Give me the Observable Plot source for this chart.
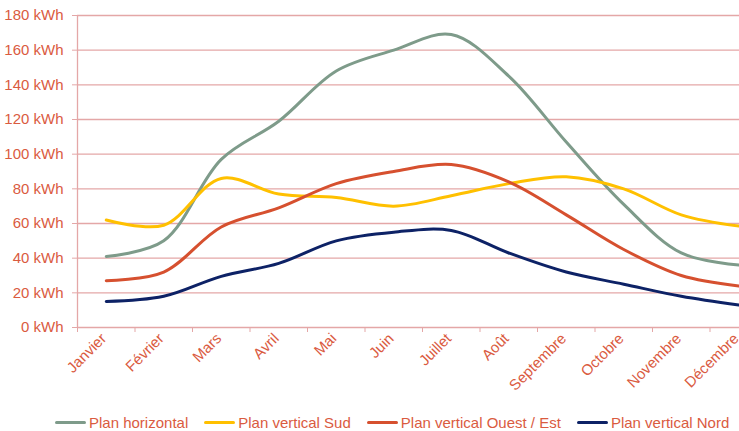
<!DOCTYPE html>
<html><head><meta charset="utf-8">
<script src="https://cdn.jsdelivr.net/npm/d3@7"></script>
<script src="https://cdn.jsdelivr.net/npm/@observablehq/plot@0.6"></script>
<style>
body{margin:0;background:#fff;font-family:"Liberation Sans",Arial,sans-serif;}
#wrap{position:relative;width:739px;height:431px;overflow:hidden;background:#fff;}
#legend{position:absolute;left:55px;top:415px;display:flex;gap:16px;font-size:15px;color:#DA5B3F;line-height:15px;height:15px;}
.item{display:flex;align-items:center;white-space:nowrap;}
.sw{display:inline-block;width:31px;height:3px;margin-right:3px;border-radius:1.5px;}
</style></head><body><div id="wrap"><div id="chart"></div><div id="legend"></div></div>
<script>
const months = ["Janvier","Février","Mars","Avril","Mai","Juin","Juillet","Août","Septembre","Octobre","Novembre","Décembre"];
const seriesNames = ["Plan horizontal","Plan vertical Sud","Plan vertical Ouest / Est","Plan vertical Nord"];
const seriesColors = ["#7E9B8A","#FFC000","#D6502F","#0D2266"];
const planHorizontal = [41, 50, 97, 119, 148, 160, 169, 145, 107, 71, 43, 36];
const planSud = [62, 59, 86, 77, 75, 70, 76, 83, 87, 80, 65, 58.5];
const planOuestEst = [27, 32, 58, 69, 83, 90, 94, 84, 65, 45, 30, 24];
const planNord = [15, 18, 29.5, 37, 50, 55, 56, 43, 32, 25, 18, 13];
const yTicks = [0,20,40,60,80,100,120,140,160,180];

const textColor = "#DA5B3F";
const gridColor = "#E4A7A7";

const allValues = [planHorizontal, planSud, planOuestEst, planNord];
const data = seriesNames.flatMap((name, s) => allValues[s].map((v, i) => ({name, month: months[i], pos: i + 0.5, value: v})));
const boundaries = d3.range(0, months.length + 1);

const chart = Plot.plot({
  width: 739, height: 405,
  marginTop: 15, marginBottom: 78, marginLeft: 77, marginRight: 0,
  style: {fontFamily: "'Liberation Sans', Arial, sans-serif", fontSize: "15px", color: textColor, background: "transparent", overflow: "hidden"},
  x: {type: "linear", domain: [0, months.length], range: [77, 767]},
  y: {domain: [0, 180]},
  color: {domain: seriesNames, range: seriesColors},
  marks: [
    Plot.gridY(yTicks, {stroke: gridColor, strokeOpacity: 1, strokeWidth: 1.3}),
    Plot.ruleX([0], {y1: 0, y2: 180, stroke: gridColor, strokeWidth: 1.3}),
    Plot.axisY({ticks: yTicks, tickFormat: d => d + " kWh", tickSize: 5, tickPadding: 9, stroke: gridColor, fill: textColor, fontSize: 15, label: null}),
    Plot.axisX({ticks: boundaries, tickFormat: () => "", tickSize: 5, stroke: gridColor, label: null}),
    Plot.text(months, {x: (d, i) => i + 0.5, text: d => d, frameAnchor: "bottom", dy: 12, dx: 1, rotate: -45, textAnchor: "end", fill: textColor, fontSize: 15}),
    Plot.lineY(data, {x: "pos", y: "value", z: "name", stroke: "name", curve: "catmull-rom", strokeWidth: 3, strokeLinecap: "round"})
  ]
});
document.getElementById("chart").appendChild(chart);

const legend = document.getElementById("legend");
seriesNames.forEach((n, i) => {
  const item = document.createElement("div");
  item.className = "item";
  const sw = document.createElement("span");
  sw.className = "sw";
  sw.style.background = seriesColors[i];
  const t = document.createElement("span");
  t.textContent = n;
  item.appendChild(sw); item.appendChild(t);
  legend.appendChild(item);
});
</script></body></html>
